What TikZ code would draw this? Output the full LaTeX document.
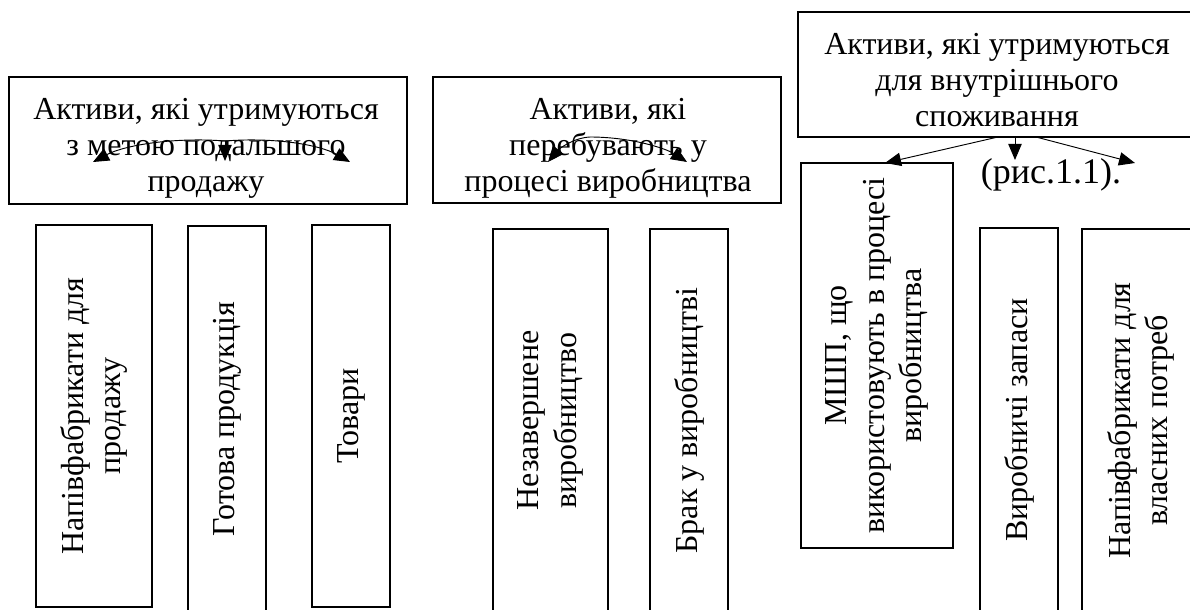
\documentclass[tikz,border=0pt]{standalone}
\usepackage{fontspec}
\setmainfont{Liberation Serif}
\usetikzlibrary{arrows.meta}
\def\u{0.75pt}
\begin{document}
\begin{tikzpicture}[x=0.75pt,y=-0.75pt,
  box/.style={draw, line width=1pt, inner sep=0pt},
  htxt/.style={font=\fontsize{24}{27}\selectfont, align=center, inner sep=0pt},
  vbox/.style={draw, line width=1pt, rotate=90, inner sep=0pt,
    font=\fontsize{24}{28}\selectfont, align=center},
  arr/.style={-{Triangle[length=12pt,width=10pt]}, line width=0.7pt}]
\useasboundingbox (0,0) rectangle (1190,610);
\clip (0,0) rectangle (1190,610);
% top boxes
\node[box, minimum width=398*\u, minimum height=127*\u] (b1) at (208,140.5) {};
\node[box, minimum width=348*\u, minimum height=126*\u] (b2) at (607,140) {};
\node[box, minimum width=398*\u, minimum height=125*\u] (b3) at (997,74.5) {};
\node[htxt] (t1) at (206,148) {Активи, які утримуються\\з метою подальшого\\продажу};
\node[htxt] (t2) at (608,148) {Активи, які\\перебувають у\\процесі виробництва};
\node[htxt] (t3) at (997,80) {Активи, які утримуються\\для внутрішнього\\споживання};
\node[font=\fontsize{27}{30}\selectfont, inner sep=0pt, anchor=base] (ref) at (1051,184) {(рис.1.1).};
% vertical boxes
\node[vbox, minimum width=382*\u, minimum height=116*\u] (a) at (94,416) {Напівфабрикати  для\\продажу};
\node[vbox, minimum width=386*\u, minimum height=78*\u] (bb) at (227,419) {Готова продукція};
\node[vbox, minimum width=382*\u, minimum height=78*\u] (c) at (351,416) {Товари};
\node[vbox, minimum width=383*\u, minimum height=115*\u] (d) at (550.5,420.5) {Незавершене\\виробництво};
\node[vbox, minimum width=383*\u, minimum height=78*\u] (e) at (689,420.5) {Брак у виробництві};
\node[vbox, minimum width=385*\u, minimum height=152*\u] (m) at (877,355.5) {МШП, що\\використовують в процесі\\виробництва};
\node[vbox, minimum width=384*\u, minimum height=78*\u] (v) at (1019,420) {Виробничі запаси};
\node[vbox, minimum width=383*\u, minimum height=118*\u] (n) at (1141,420.5) {Напівфабрикати для\\власних потреб};
% arrows in box 1
\coordinate (o1) at (225,141);
\coordinate (l1) at (93,162);
\coordinate (r1) at (350,162);
\coordinate (m1) at (225,161);
\draw[arr] (o1) .. controls (175,137) and (125,145) .. (l1);
\draw[arr] (o1) .. controls (275,137) and (320,145) .. (r1);
\draw[arr] (o1) -- (m1);
% arrows in box 2
\coordinate (o2) at (590,137);
\coordinate (l2) at (548,162);
\coordinate (r2) at (687,162);
\draw[arr] (o2) .. controls (572,138) and (558,150) .. (l2);
\draw[arr] (o2) .. controls (630,137) and (665,148) .. (r2);
% arrows from box 3
\coordinate (o3l) at (998,137);
\coordinate (o3m) at (1015,137);
\coordinate (o3r) at (1036,137);
\coordinate (e3l) at (885,163);
\coordinate (e3m) at (1015,160);
\coordinate (e3r) at (1135,163);
\draw[arr] (o3l) -- (e3l);
\draw[arr] (o3m) -- (e3m);
\draw[arr] (o3r) -- (e3r);
\end{tikzpicture}
\end{document}
